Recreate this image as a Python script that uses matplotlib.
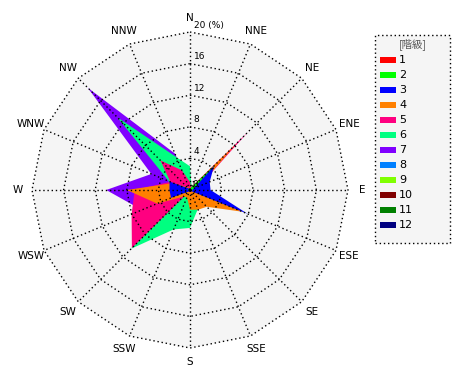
import numpy as np
import matplotlib
matplotlib.use("Agg")
import matplotlib.pyplot as plt
from matplotlib.patches import Rectangle

plt.rcParams['font.family'] = ['DejaVu Sans', 'Noto Sans CJK JP']

# 16 directions, clockwise from N
directions = ["N", "NNE", "NE", "ENE", "E", "ESE", "SE", "SSE",
              "S", "SSW", "SW", "WSW", "W", "WNW", "NW", "NNW"]

# frequency (%) of each class per direction
c1 = [0, 0, 0, 0, 0, 0, 0, 0, 0, 0, 0, 0, 0, 0, 0, 0]
c2 = [0, 0.3, 4.5, 0.5, 0.3, 0.3, 0, 0, 0, 0, 0, 0, 0.3, 0.3, 0, 0]
c3 = [0.2, 0.3, 4.3, 2.7, 2.6, 7.9, 0.2, 0.2, 0.2, 0.2, 0.3, 2.6, 2.6, 2.8, 0.3, 0.2]
c4 = [0.3, 0.4, 8.4, 1.3, 1.5, 7.2, 3.0, 2.7, 2.5, 1.0, 1.2, 4.5, 8.0, 2.3, 0.5, 0.3]
c5 = [1.0, 0.4, 10.4, 1.3, 0.3, 0.2, 0.2, 0.2, 0.2, 0.2, 10.4, 8.0, 7.0, 2.7, 5.3, 2.7]
c6 = [3.0, 0.5, 0.3, 0.3, 0.3, 0.3, 0.5, 2.6, 4.8, 5.4, 10.5, 5.0, 3.0, 2.9, 13.0, 4.5]
c7 = [0.5, 0.2, 0.2, 0.2, 0.2, 0.2, 0.2, 0.2, 0.5, 1.0, 3.0, 6.6, 10.6, 5.3, 18.3, 5.0]
c8 = [0] * 16
c9 = [0] * 16
c10 = [0] * 16
c11 = [0] * 16
c12 = [0] * 16
classes = [c1, c2, c3, c4, c5, c6, c7, c8, c9, c10, c11, c12]
class_labels = ["1", "2", "3", "4", "5", "6", "7", "8", "9", "10", "11", "12"]
colors = ["#ff0000", "#00ff00", "#0000ff", "#ff8000", "#ff0080", "#00ff80",
          "#8000ff", "#0080ff", "#80ff00", "#800000", "#008000", "#000080"]
rings = [4, 8, 12, 16, 20]

W, H = 470, 380
cx, cy, ppu = 190, 190, 7.9  # centre in pixels, pixels per %

fig = plt.figure(figsize=(W / 100, H / 100), dpi=100)
fig.patch.set_facecolor("white")
ax = fig.add_axes([0, 0, 1, 1])
ax.set_xlim(-cx / ppu, (W - cx) / ppu)
ax.set_ylim(-(H - cy) / ppu, cy / ppu)
ax.set_aspect("equal")
ax.axis("off")

theta = np.deg2rad(np.arange(16) * 22.5)
sx, sy = np.sin(theta), np.cos(theta)
rmax = rings[-1]

# background
ax.fill(rmax * sx, rmax * sy, color="#f5f5f5", zorder=0, lw=0)

# class polygons, biggest class number at the bottom
for vals, col in reversed(list(zip(classes, colors))):
    v = np.array(vals, dtype=float)
    if v.sum() == 0:
        continue
    ax.fill(v * sx, v * sy, color=col, lw=0, zorder=1)

# grid
dots = (0, (1, 2))
for r in rings:
    ax.plot(np.append(r * sx, r * sx[0]), np.append(r * sy, r * sy[0]),
            color="black", lw=1, ls=dots, zorder=2)
for i in range(16):
    ax.plot([0, rmax * sx[i]], [0, rmax * sy[i]], color="black", lw=1,
            ls=dots, zorder=2)

# ring labels
for r in rings[:-1]:
    ax.text(0.45, r + 0.3, str(r), fontsize=6.5, ha="left", va="bottom", zorder=3)
ax.text(0.45, rmax + 0.3, "20 (%)", fontsize=6.5, ha="left", va="bottom", zorder=3)
ax.text(0.3, 0.1, "0", fontsize=6.5, ha="left", va="bottom", zorder=3)

# direction labels
for i, d in enumerate(directions):
    ax.text(21.8 * sx[i], 21.8 * sy[i], d, fontsize=7.5, ha="center",
            va="center", zorder=3)

# legend (pixel positions converted to figure fractions)
def fx(px):
    return px / W

def fy(py):
    return 1 - py / H

fig.patches.append(Rectangle((fx(375), fy(243)), fx(450) - fx(375),
                             fy(35) - fy(243), transform=fig.transFigure,
                             facecolor="#f5f5f5", edgecolor="black", lw=1,
                             ls=dots))
fig.text(fx(413), fy(44), "[階級]", fontsize=7.5, ha="center", va="center",
         color="#555555", family=['Noto Sans CJK JP', 'DejaVu Sans'])
for i, (lab, col) in enumerate(zip(class_labels, colors)):
    y = 60 + 15 * i
    fig.patches.append(Rectangle((fx(380), fy(y + 2.5)), fx(396) - fx(380),
                                 fy(y - 2.5) - fy(y + 2.5),
                                 transform=fig.transFigure, facecolor=col,
                                 edgecolor="none"))
    fig.text(fx(399), fy(y), lab, fontsize=8, ha="left", va="center")

fig.savefig("out.png", dpi=100, facecolor="white")
